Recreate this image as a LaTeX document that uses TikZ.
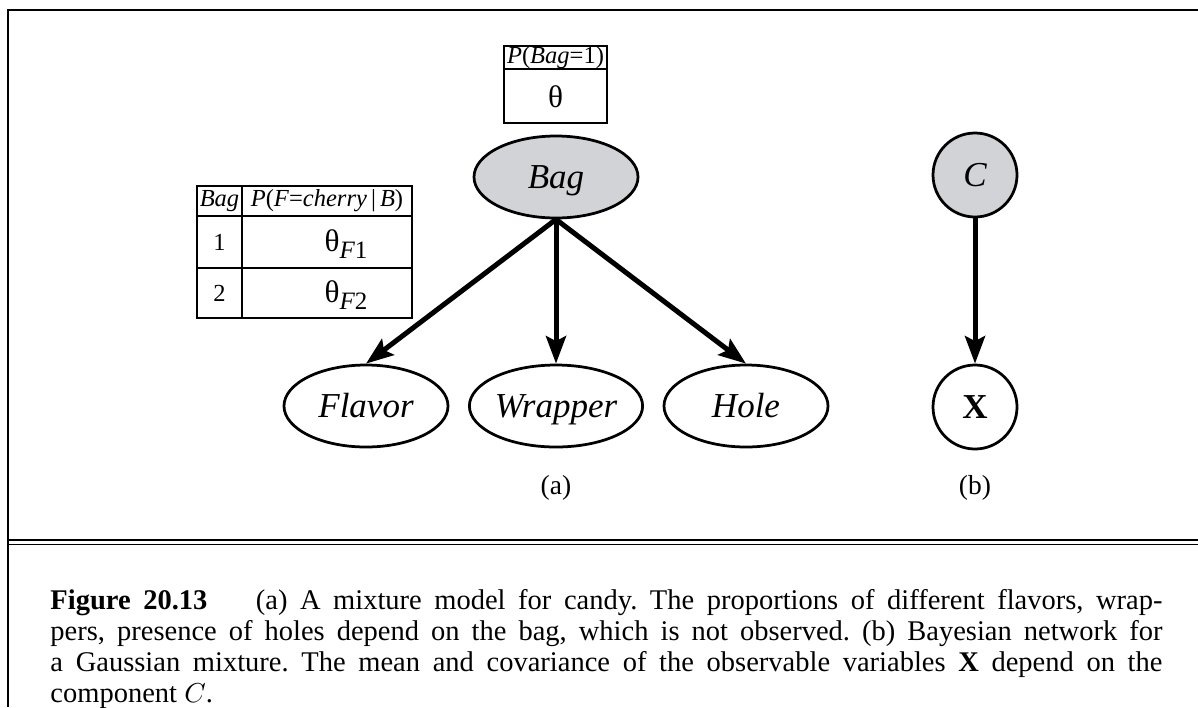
\documentclass[tikz,border=0pt]{standalone}
\usepackage{fontspec}
\setmainfont{Liberation Serif}
\usetikzlibrary{arrows.meta,shapes.geometric}
\definecolor{baggray}{RGB}{210,211,214}

\begin{document}
\begin{tikzpicture}[x=0.4pt,y=-0.4pt,
  var/.style={draw,line width=1.1pt,ellipse,minimum width=65.6pt,minimum height=32.8pt,inner sep=0pt,text height=9.3pt,text depth=0pt,font=\fontsize{14}{16}\selectfont\itshape},
  roundvar/.style={draw,line width=1.1pt,circle,minimum size=33.6pt,inner sep=0pt,text height=9.3pt,text depth=0pt,font=\fontsize{14}{16}\selectfont},
  hidden/.style={fill=baggray},
  edge/.style={line width=2pt,-{Stealth[length=11pt,width=8pt,inset=2pt]}},
  tab/.style={line width=0.5pt},
  tabtext/.style={inner sep=0pt,font=\fontsize{9.8}{11}\selectfont},
  thetatext/.style={inner sep=0pt,font=\fontsize{12.5}{14}\selectfont}]
\useasboundingbox (0,0) rectangle (1198,707);

\draw[line width=0.8pt] (1198,10) -- (8,10) -- (8,707);
\draw[line width=0.8pt] (8,540) -- (1198,540);
\draw[line width=0.6pt] (8,544.5) -- (1198,544.5);

\node[var,hidden] (bag) at (556,177) {Bag};
\node[var] (flavor) at (366,406) {Flavor};
\node[var] (wrapper) at (556,406) {Wrapper};
\node[var] (hole) at (746,406) {Hole};

\draw[edge] (bag.south) -- (flavor.north);
\draw[edge] (bag.south) -- (wrapper.north);
\draw[edge] (bag.south) -- (hole.north);

\node[roundvar,hidden] (c) at (975,175) {\itshape C};
\node[roundvar] (x) at (975,407) {\bfseries X};
\draw[edge] (c.south) -- (x.north);

\draw[tab] (504,46) rectangle (607,123);
\draw[tab] (504,69) -- (607,69);
\node[tabtext] (priorhead) at (555.5,57.5) {\textit{P}(\textit{Bag}=1)};
\node[thetatext] (prior) at (555.5,97) {θ};

\draw[tab] (197,186) rectangle (412,318);
\draw[tab] (242,186) -- (242,318);
\draw[tab] (197,216) -- (412,216);
\draw[tab] (197,268) -- (412,268);
\node[tabtext] (baghead) at (219.5,201) {\textit{Bag}};
\node[tabtext] (cpthead) at (327,201) {\textit{P}(\textit{F}=\textit{cherry}\,|\,\textit{B})};
\node[tabtext] (row1) at (219.5,242) {1};
\node[tabtext] (row2) at (219.5,293) {2};
\node[thetatext] (cpt1) at (346,244) {θ\raisebox{-0.45ex}{\fontsize{10}{11}\selectfont\textit{F}1}};
\node[thetatext] (cpt2) at (346,295) {θ\raisebox{-0.45ex}{\fontsize{10}{11}\selectfont\textit{F}2}};

\node[font=\fontsize{11}{13}\selectfont] (labela) at (556,488) {(a)};
\node[font=\fontsize{11}{13}\selectfont] (labelb) at (975,488) {(b)};

\node[anchor=north west,inner sep=0pt,text width=444.8pt,align=justify,font=\fontsize{11.4}{12.4}\selectfont\frenchspacing] (caption) at (50,589)
{\textbf{Figure 20.13}\hspace{1.7em}(a) A mixture model for candy. The proportions of different flavors, wrap-\linebreak
pers, presence of holes depend on the bag, which is not observed. (b) Bayesian network for\linebreak
a Gaussian mixture. The mean and covariance of the observable variables \textbf{X} depend on the\linebreak
component $C$.};
\end{tikzpicture}
\end{document}
